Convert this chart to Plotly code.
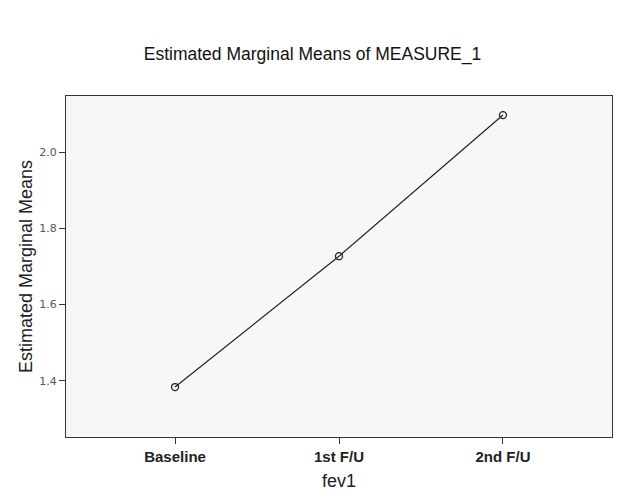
import plotly.graph_objects as go

categories = ["Baseline", "1st F/U", "2nd F/U"]
means = [1.384, 1.727, 2.097]
y_ticks = [1.4, 1.6, 1.8, 2.0]

fig = go.Figure()
fig.add_trace(go.Scatter(
    x=list(range(len(categories))), y=means, mode="lines+markers",
    line=dict(color="#222222", width=1.2),
    marker=dict(symbol="circle-open", size=7, color="#222222", line=dict(width=1.3)),
    showlegend=False,
))
fig.update_layout(
    width=625, height=500,
    margin=dict(l=66, r=13, t=96, b=63),
    paper_bgcolor="white", plot_bgcolor="#f7f7f7",
    font=dict(family="Liberation Sans", color="#222222"),
    title=dict(text="Estimated Marginal Means of MEASURE_1", x=0.5, xanchor="center",
               y=1 - 54 / 500, yanchor="middle", font=dict(size=17.5, color="#111111")),
)
fig.update_xaxes(
    range=[-0.665, 2.665], tickvals=list(range(len(categories))), ticktext=[f"<b>{c}</b>" for c in categories],
    showgrid=False, zeroline=False, showline=True, linecolor="#333333", linewidth=1, mirror=True,
    ticks="outside", ticklen=6, tickcolor="#333333",
    tickfont=dict(size=15, color="#222222", family="Liberation Sans"),
    title=dict(text="fev1", font=dict(size=18, color="#222222"), standoff=10),
)
fig.update_yaxes(
    range=[1.253, 2.147], tickvals=y_ticks, ticktext=[f"{v:.1f}" for v in y_ticks],
    showgrid=False, zeroline=False, showline=True, linecolor="#333333", linewidth=1, mirror=True,
    ticks="outside", ticklen=6, tickcolor="#333333",
    tickfont=dict(size=11, color="#555555", family="DejaVu Sans"),
    title=dict(text="Estimated Marginal Means", font=dict(size=18, color="#222222"), standoff=1),
)
fig.write_html("out.html")
